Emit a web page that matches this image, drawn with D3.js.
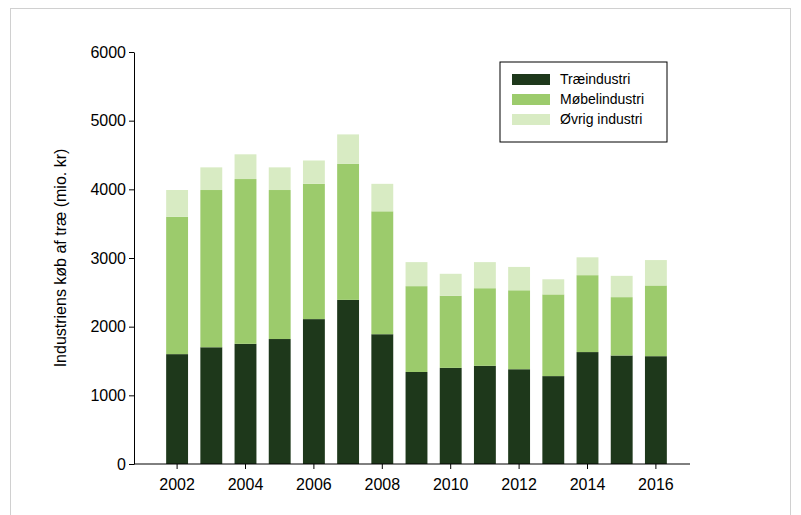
<!DOCTYPE html>
<html><head><meta charset="utf-8">
<script src="https://cdn.jsdelivr.net/npm/d3@7"></script>
<style>body{margin:0;background:#fff}</style>
</head><body><div id="chart"></div>
<script>
// Data (mio. kr)
const years = [2002,2003,2004,2005,2006,2007,2008,2009,2010,2011,2012,2013,2014,2015,2016];
const trae  = [1600,1700,1750,1820,2110,2390,1890,1340,1400,1430,1380,1280,1630,1580,1570];
const mobel = [2000,2290,2400,2170,1970,1980,1790,1250,1050,1130,1150,1190,1120,850,1030];
const ovrig = [390,330,360,330,340,430,400,350,320,380,340,220,260,310,370];
const seriesNames = ["Træindustri","Møbelindustri","Øvrig industri"];
const colors = ["#1e381b","#9ccb6c","#d8ebc3"];
const yTicks = [0,1000,2000,3000,4000,5000,6000];

const W = 801, H = 515;
const m = {t:52, l:134, r:111, b:51};
const w = W - m.l - m.r, h = H - m.t - m.b;

const svg = d3.select("#chart").append("svg").attr("width",W).attr("height",H)
  .style("font-family","Liberation Sans, Arial, sans-serif");

svg.append("rect").attr("x",10.5).attr("y",8.5).attr("width",780).attr("height",510)
  .attr("fill","none").attr("stroke","#d0d0d0");

const rows = years.map((y,i)=>({year:y, s0:trae[i], s1:mobel[i], s2:ovrig[i]}));
const stack = d3.stack().keys(["s0","s1","s2"])(rows);

const x = d3.scaleBand().domain(years).range([26,539]).paddingInner(0.36).paddingOuter(0.18);
const y = d3.scaleLinear().domain([0,6000]).range([h,0]);

const g = svg.append("g").attr("transform",`translate(${m.l},${m.t})`);

g.selectAll("g.layer").data(stack).enter().append("g")
  .attr("fill",(d,i)=>colors[i])
  .selectAll("rect").data(d=>d).enter().append("rect")
  .attr("x",d=>x(d.data.year)).attr("width",x.bandwidth())
  .attr("y",d=>y(d[1])).attr("height",d=>y(d[0])-y(d[1]));

const ya = g.append("g").call(d3.axisLeft(y).tickValues(yTicks).tickFormat(d3.format("d")).tickSize(5).tickSizeOuter(0));
const xa = g.append("g").attr("transform",`translate(0,${h})`)
  .call(d3.axisBottom(x).tickValues(years.filter(v=>v%2===0)).tickSize(5).tickSizeOuter(0));
[ya,xa].forEach(a=>{
  a.selectAll("text").style("font-size","16px").attr("fill","#000");
  a.selectAll("line,path").attr("stroke","#000");
});
xa.select("path").attr("d",`M0,0H${w}`);
xa.selectAll("text").attr("dy","1.1em");

svg.append("text").attr("transform",`translate(66,${m.t+h/2}) rotate(-90)`)
  .attr("text-anchor","middle").style("font-size","16px")
  .text("Industriens køb af træ (mio. kr)");

const lg = svg.append("g").attr("transform","translate(500,62)");
lg.append("rect").attr("width",167).attr("height",80).attr("fill","#fff").attr("stroke","#000");
seriesNames.forEach((n,i)=>{
  lg.append("rect").attr("x",12).attr("y",12+i*20).attr("width",38).attr("height",11).attr("fill",colors[i]);
  lg.append("text").attr("x",60).attr("y",22+i*20).style("font-size","14px").text(n);
});
</script></body></html>
